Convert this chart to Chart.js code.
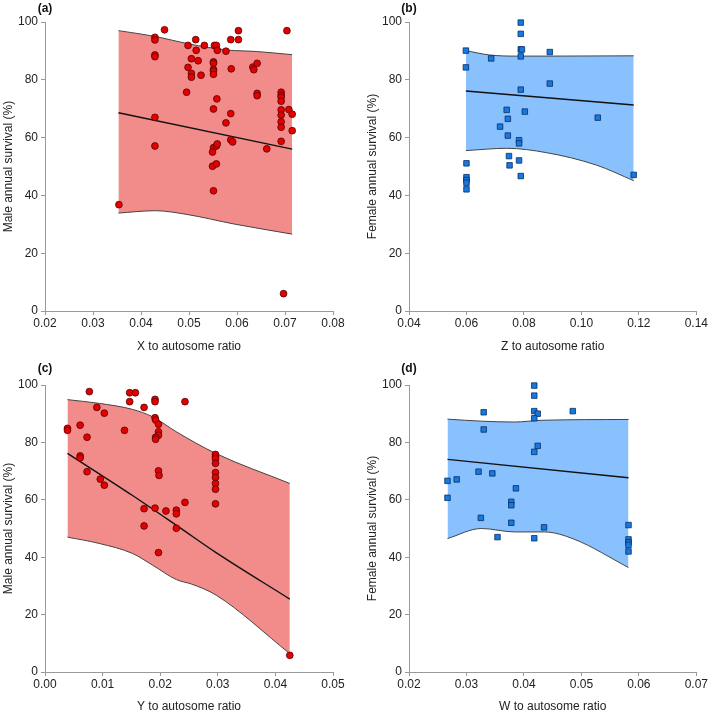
<!DOCTYPE html>
<html><head><meta charset="utf-8">
<script src="https://cdn.jsdelivr.net/npm/chart.js@4.4.1/dist/chart.umd.min.js"></script>
<style>
html,body{margin:0;padding:0;background:#fff;}
#wrap{position:relative;width:709px;height:714px;overflow:hidden;}
canvas{position:absolute;display:block;}
</style></head><body>
<div id="wrap">
<canvas id="ca" width="354" height="357" style="left:0;top:0"></canvas>
<canvas id="cb" width="355" height="357" style="left:354px;top:0"></canvas>
<canvas id="cc" width="354" height="357" style="left:0;top:357px"></canvas>
<canvas id="cd" width="355" height="357" style="left:354px;top:357px"></canvas>
</div>
<script>
// ---- Panel (a): X to autosome ratio vs male survival ----
const aX = [0.0449,0.0429,0.0429,0.0429,0.0429,0.0429,0.0429,0.0514,0.0498,0.0515,
  0.0532,0.0553,0.0557,0.0559,0.0577,0.0587,0.0603,0.0603,0.0704,0.0505,
  0.0519,0.0498,0.0505,0.0505,0.0525,0.0551,0.0551,0.0551,0.0551,0.0551,
  0.0588,0.0633,0.0635,0.0642,0.0495,0.0558,0.0551,0.0587,0.0577,0.0642,
  0.0642,0.0692,0.0692,0.0692,0.0692,0.0692,0.0692,0.0692,0.0692,0.0708,
  0.0715,0.0715,0.0692,0.0587,0.0591,0.0662,0.0551,0.0557,0.0559,0.0549,
  0.0549,0.0557,0.0551,0.0354,0.0697];
const aY = [97.3,94.7,93.8,88.6,88.0,67.0,57.1,93.9,91.9,90.2,
  91.9,91.9,91.9,90.2,89.9,93.9,97.0,93.9,97.0,87.3,
  86.6,84.3,82.2,80.9,81.6,86.2,85.7,83.6,83.0,81.9,
  83.8,84.4,83.5,85.7,75.7,73.4,69.9,68.3,65.1,75.3,
  74.5,75.7,74.7,74.0,72.6,69.6,67.8,65.5,63.6,69.7,
  68.1,62.4,58.7,59.2,58.5,56.1,56.5,57.1,57.8,55.0,
  50.1,50.9,41.6,36.8,6.0];
const aFitX = [0.0353,0.0715];
const aFitY = [68.6,56.0];
const aUpX = [0.0353,0.043,0.050,0.058,0.064,0.0715];
const aUpY = [97.0,95.0,92.4,90.3,89.8,88.7];
const aLoX = [0.0353,0.043,0.0496,0.0594,0.0715];
const aLoY = [33.9,34.7,33.4,30.1,26.6];

// ---- Panel (b): Z to autosome ratio vs female survival ----
const bX = [0.0789,0.0789,0.0789,0.0793,0.0789,0.0598,0.0598,0.0686,0.0890,0.0789,
  0.0890,0.0740,0.0744,0.0803,0.0717,0.0744,0.0783,0.0783,0.1057,0.0748,
  0.0750,0.0783,0.0789,0.0600,0.0600,0.0600,0.0600,0.0600,0.1182];
const bY = [99.8,95.9,90.5,90.5,88.1,90.1,84.3,87.4,89.6,76.6,
  78.7,69.6,66.5,69.0,63.8,60.7,59.1,58.0,66.9,53.6,
  50.4,52.1,46.7,51.1,46.3,45.3,44.4,42.1,47.1];
const bFitX = [0.0598,0.1182];
const bFitY = [76.1,71.3];
const bUpX = [0.0598,0.068,0.0774,0.089,0.1182];
const bUpY = [90.1,88.6,88.2,88.2,88.3];
const bLoX = [0.0598,0.0739,0.0878,0.1052,0.1182];
const bLoY = [55.5,56.3,54.8,50.5,45.1];

// ---- Panel (c): Y to autosome ratio vs male survival ----
const cX = [0.0039,0.0039,0.0077,0.0061,0.0073,0.0061,0.0061,0.0073,0.0090,0.0103,
  0.0096,0.0103,0.0138,0.0147,0.0147,0.0157,0.0172,0.0191,0.0191,0.0191,
  0.0192,0.0197,0.0197,0.0197,0.0192,0.0192,0.0243,0.0197,0.0198,0.0172,
  0.0191,0.0210,0.0228,0.0228,0.0243,0.0172,0.0228,0.0296,0.0296,0.0296,
  0.0296,0.0296,0.0296,0.0296,0.0296,0.0296,0.0197,0.0425];
const cY = [84.9,84.2,97.7,86.0,81.8,75.3,74.6,69.8,92.2,90.2,
  67.2,65.1,84.2,94.2,97.3,97.3,92.2,95.0,94.2,88.6,
  87.8,86.3,83.7,82.5,81.8,81.1,94.2,70.1,68.5,56.9,
  57.1,56.1,56.4,55.1,59.1,50.9,50.1,75.8,75.0,74.3,
  72.7,69.5,67.8,65.7,63.7,58.6,41.6,5.8];
const cFitX = [0.0039,0.0152,0.0234,0.0297,0.0425];
const cFitY = [76.2,61.5,50.3,41.6,25.4];
const cUpX = [0.0039,0.0094,0.0152,0.0187,0.0228,0.0296,0.0425];
const cUpY = [94.9,93.6,91.5,88.9,83.7,76.2,65.7];
const cLoX = [0.0039,0.0094,0.0152,0.0187,0.0228,0.0255,0.0297,0.0425];
const cLoY = [47.0,44.8,41.3,37.2,32.2,30.6,26.8,6.4];

// ---- Panel (d): W to autosome ratio vs female survival ----
const dX = [0.0418,0.0418,0.0418,0.0424,0.0418,0.0330,0.0485,0.0330,0.0424,0.0418,
  0.0267,0.0283,0.0321,0.0345,0.0267,0.0386,0.0378,0.0378,0.0325,0.0378,
  0.0435,0.0582,0.0354,0.0418,0.0582,0.0582,0.0582,0.0582];
const dY = [99.8,96.3,90.9,90.0,88.4,90.5,90.9,84.5,78.8,76.7,
  66.6,67.1,69.8,69.2,60.7,64.0,59.3,58.1,53.7,52.0,
  50.4,51.2,47.0,46.6,46.2,45.2,44.3,42.0];
const dFitX = [0.0267,0.0582];
const dFitY = [74.1,67.7];
const dUpX = [0.0267,0.0326,0.0384,0.043,0.0582];
const dUpY = [88.1,87.4,87.1,87.7,88.0];
const dLoX = [0.0267,0.0326,0.0384,0.0436,0.0487,0.0582];
const dLoY = [46.5,50.0,48.8,48.8,46.3,36.4];

const yTicks = [0,20,40,60,80,100];

const FONT = '"Liberation Sans", Arial, Helvetica, sans-serif';
const zip = (xs, ys) => xs.map((x, i) => ({x, y: ys[i]}));

const panelLabel = {
  id: 'panelLabel',
  afterDraw(chart, args, o) {
    const ctx = chart.ctx;
    ctx.save();
    ctx.font = 'bold 12px ' + FONT;
    ctx.fillStyle = '#111';
    ctx.textAlign = 'center';
    ctx.textBaseline = 'middle';
    ctx.fillText(o.text, chart.chartArea.left, o.y);
    ctx.restore();
  }
};

function makePanel(id, cfg) {
  const red = cfg.kind === 'red';
  const datasets = [
    {
      type: 'scatter', data: zip(cfg.px, cfg.py), order: 1, clip: false,
      pointStyle: red ? 'circle' : 'rect',
      pointRadius: red ? 3.4 : 3.9, pointHoverRadius: red ? 3.4 : 3.9,
      backgroundColor: red ? '#e30000' : '#1479e0',
      borderColor: red ? '#5c0000' : '#0b2f63', borderWidth: 0.8
    },
    {
      type: 'line', data: zip(cfg.fx, cfg.fy), order: 2,
      borderColor: '#111', borderWidth: 1.4, pointRadius: 0, fill: false,
      cubicInterpolationMode: 'monotone'
    },
    {
      type: 'line', data: zip(cfg.ux, cfg.uy), order: 4,
      borderColor: '#444', borderWidth: 1, pointRadius: 0,
      backgroundColor: red ? '#f28c8a' : '#89c0fe', fill: '+1',
      cubicInterpolationMode: 'monotone'
    },
    {
      type: 'line', data: zip(cfg.lx, cfg.ly), order: 3,
      borderColor: '#444', borderWidth: 1, pointRadius: 0, fill: false,
      cubicInterpolationMode: 'monotone'
    }
  ];
  const axisColor = '#9a9a9a';
  return new Chart(document.getElementById(id), {
    type: 'scatter',
    data: { datasets },
    plugins: [panelLabel],
    options: {
      responsive: false, animation: false, devicePixelRatio: 1,
      layout: { padding: cfg.pad },
      plugins: {
        legend: { display: false }, tooltip: { enabled: false },
        panelLabel: { text: cfg.label, y: cfg.labelY }
      },
      scales: {
        x: {
          type: 'linear', position: 'bottom', min: cfg.xmin, max: cfg.xmax,
          afterFit: s => { s.height = cfg.xH; },
          afterBuildTicks: s => { s.ticks = cfg.xTicks.map(v => ({value: v})); },
          ticks: {
            color: '#222', font: { family: FONT, size: 12 }, padding: 1,
            callback: v => Number(v).toFixed(2), maxRotation: 0, autoSkip: false
          },
          grid: { display: true, drawOnChartArea: false, drawTicks: true, tickLength: 4, color: axisColor },
          border: { display: true, color: axisColor },
          title: { display: true, text: cfg.xTitle, color: '#222', font: { family: FONT, size: 12 }, padding: { top: 0, bottom: cfg.xtpb } }
        },
        y: {
          type: 'linear', position: 'left', min: 0, max: 100,
          afterFit: s => { s.width = 45; },
          afterBuildTicks: s => { s.ticks = yTicks.map(v => ({value: v})); },
          ticks: { color: '#222', font: { family: FONT, size: 12 }, padding: 3 },
          grid: { display: true, drawOnChartArea: false, drawTicks: true, tickLength: 4, color: axisColor },
          border: { display: true, color: axisColor },
          title: { display: true, text: cfg.yTitle, color: '#222', font: { family: FONT, size: 12 }, padding: { top: 1, bottom: 0 } }
        }
      }
    }
  });
}

makePanel('ca', {
  kind: 'red', px: aX, py: aY, fx: aFitX, fy: aFitY, ux: aUpX, uy: aUpY, lx: aLoX, ly: aLoY,
  xmin: 0.02, xmax: 0.08, xTicks: [0.02,0.03,0.04,0.05,0.06,0.07,0.08],
  xTitle: 'X to autosome ratio', yTitle: 'Male annual survival (%)',
  label: '(a)', labelY: 8.5, pad: { left: 0, top: 22, right: 21, bottom: 0 }, xH: 46, xtpb: 3
});
makePanel('cb', {
  kind: 'blue', px: bX, py: bY, fx: bFitX, fy: bFitY, ux: bUpX, uy: bUpY, lx: bLoX, ly: bLoY,
  xmin: 0.04, xmax: 0.14, xTicks: [0.04,0.06,0.08,0.10,0.12,0.14],
  xTitle: 'Z to autosome ratio', yTitle: 'Female annual survival (%)',
  label: '(b)', labelY: 8.5, pad: { left: 10, top: 22, right: 12, bottom: 0 }, xH: 46, xtpb: 3
});
makePanel('cc', {
  kind: 'red', px: cX, py: cY, fx: cFitX, fy: cFitY, ux: cUpX, uy: cUpY, lx: cLoX, ly: cLoY,
  xmin: 0.0, xmax: 0.05, xTicks: [0.00,0.01,0.02,0.03,0.04,0.05],
  xTitle: 'Y to autosome ratio', yTitle: 'Male annual survival (%)',
  label: '(c)', labelY: 11.5, pad: { left: 0, top: 28, right: 21, bottom: 0 }, xH: 42, xtpb: 0
});
makePanel('cd', {
  kind: 'blue', px: dX, py: dY, fx: dFitX, fy: dFitY, ux: dUpX, uy: dUpY, lx: dLoX, ly: dLoY,
  xmin: 0.02, xmax: 0.07, xTicks: [0.02,0.03,0.04,0.05,0.06,0.07],
  xTitle: 'W to autosome ratio', yTitle: 'Female annual survival (%)',
  label: '(d)', labelY: 11.5, pad: { left: 10, top: 28, right: 12, bottom: 0 }, xH: 42, xtpb: 0
});
</script>
</body></html>
